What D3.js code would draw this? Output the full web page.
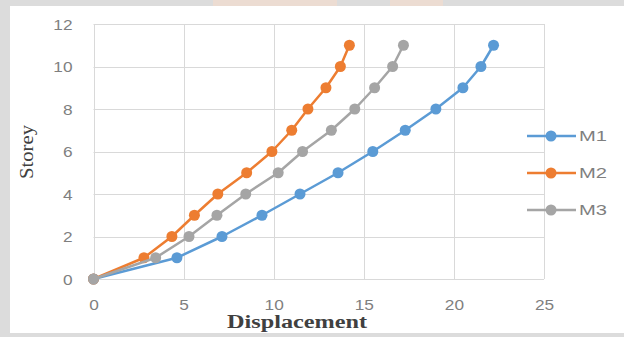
<!DOCTYPE html>
<html>
<head>
<meta charset="utf-8">
<script src="https://cdn.jsdelivr.net/npm/d3@7/dist/d3.min.js"></script>
<style>
  html, body { margin: 0; padding: 0; background: #dcdcdc; }
  svg { display: block; }
</style>
</head>
<body>
<svg id="chart" width="624" height="337"></svg>
<script>
// Storey levels and lateral displacement for each model
const stories = [0, 1, 2, 3, 4, 5, 6, 7, 8, 9, 10, 11];
const m1 = [0, 4.63, 7.13, 9.35, 11.46, 13.57, 15.5, 17.3, 19.0, 20.5, 21.5, 22.2];
const m2 = [0, 2.8, 4.35, 5.6, 6.9, 8.5, 9.9, 11.0, 11.9, 12.9, 13.7, 14.2];
const m3 = [0, 3.45, 5.3, 6.85, 8.45, 10.25, 11.6, 13.2, 14.5, 15.6, 16.6, 17.2];
const seriesNames = ["M1", "M2", "M3"];
const xTicks = [0, 5, 10, 15, 20, 25];
const yTicks = [0, 2, 4, 6, 8, 10, 12];

const colors = { M1: "#5b9bd5", M2: "#ed7d31", M3: "#a5a5a5" };
const series = [
  { name: "M1", values: m1 },
  { name: "M2", values: m2 },
  { name: "M3", values: m3 }
];

const svg = d3.select("#chart");

// faint tint along the top margin
svg.append("rect").attr("x", 213).attr("y", 0).attr("width", 124).attr("height", 6)
  .attr("fill", "#ecdcd2");
svg.append("rect").attr("x", 390).attr("y", 0).attr("width", 53).attr("height", 6)
  .attr("fill", "#ecdcd2");

// page panel
svg.append("rect").attr("x", 10).attr("y", 6).attr("width", 614).attr("height", 327)
  .attr("fill", "#ffffff");

const x = d3.scaleLinear().domain([0, 25]).range([93.5, 544]);
const y = d3.scaleLinear().domain([0, 12]).range([279, 24]);

// gridlines
const grid = svg.append("g");
grid.selectAll("line.v").data(xTicks).join("line")
  .attr("x1", d => Math.round(x(d)) + 0.5).attr("x2", d => Math.round(x(d)) + 0.5)
  .attr("y1", y(12)).attr("y2", y(0))
  .attr("stroke", "#d9d9d9").attr("stroke-width", 1);
grid.selectAll("line.h").data(yTicks).join("line")
  .attr("x1", x(0)).attr("x2", x(25))
  .attr("y1", d => Math.round(y(d)) + 0.5).attr("y2", d => Math.round(y(d)) + 0.5)
  .attr("stroke", "#d9d9d9").attr("stroke-width", 1);

// axes via d3 axis generators, styled like spreadsheet axes
const xAxis = svg.append("g").attr("transform", `translate(0,${y(0)})`)
  .call(d3.axisBottom(x).tickValues(xTicks).tickSize(0).tickPadding(20));
const yAxis = svg.append("g").attr("transform", `translate(${x(0)},0)`)
  .call(d3.axisLeft(y).tickValues(yTicks).tickSize(0).tickPadding(21));
[xAxis, yAxis].forEach(a => {
  a.select(".domain").remove();
  a.selectAll("text")
    .attr("fill", "#7f7f7f")
    .style("font-family", "'Liberation Sans', Arial, sans-serif")
    .style("font-size", "15px")
    .attr("textLength", function () { return this.textContent.length * 9.6; })
    .attr("lengthAdjust", "spacingAndGlyphs");
});
yAxis.selectAll("text").attr("dy", "0.36em");

// series lines and markers
const line = d3.line().x(d => x(d.v)).y(d => y(d.s));
series.forEach(sr => {
  const pts = stories.map((s, i) => ({ s, v: sr.values[i] }));
  const g = svg.append("g");
  g.append("path").datum(pts).attr("d", line)
    .attr("fill", "none").attr("stroke", colors[sr.name]).attr("stroke-width", 2.5)
    .attr("stroke-linejoin", "round");
  g.selectAll("circle").data(pts).join("circle")
    .attr("cx", d => x(d.v)).attr("cy", d => y(d.s)).attr("r", 5.5)
    .attr("fill", colors[sr.name]);
});

// axis titles
svg.append("text")
  .attr("transform", "translate(33,152) rotate(-90)")
  .attr("text-anchor", "middle")
  .attr("fill", "#404040")
  .style("font-family", "'Liberation Serif', 'Times New Roman', serif")
  .style("font-size", "19px")
  .attr("textLength", 54).attr("lengthAdjust", "spacingAndGlyphs")
  .text("Storey");

svg.append("text")
  .attr("x", 297).attr("y", 328)
  .attr("text-anchor", "middle")
  .attr("fill", "#404040")
  .style("font-family", "'Liberation Serif', 'Times New Roman', serif")
  .style("font-size", "18px").style("font-weight", "bold")
  .attr("textLength", 140).attr("lengthAdjust", "spacingAndGlyphs")
  .text("Displacement");

// legend
const legend = svg.append("g");
seriesNames.forEach((name, i) => {
  const ly = 136 + i * 37;
  legend.append("line").attr("x1", 527).attr("x2", 576).attr("y1", ly).attr("y2", ly)
    .attr("stroke", colors[name]).attr("stroke-width", 2.5);
  legend.append("circle").attr("cx", 551).attr("cy", ly).attr("r", 5.5).attr("fill", colors[name]);
  legend.append("text").attr("x", 579).attr("y", ly).attr("dy", "0.36em")
    .attr("fill", "#7f7f7f")
    .style("font-family", "'Liberation Sans', Arial, sans-serif")
    .style("font-size", "15px")
    .attr("textLength", 28).attr("lengthAdjust", "spacingAndGlyphs")
    .text(name);
});
</script>
</body>
</html>
